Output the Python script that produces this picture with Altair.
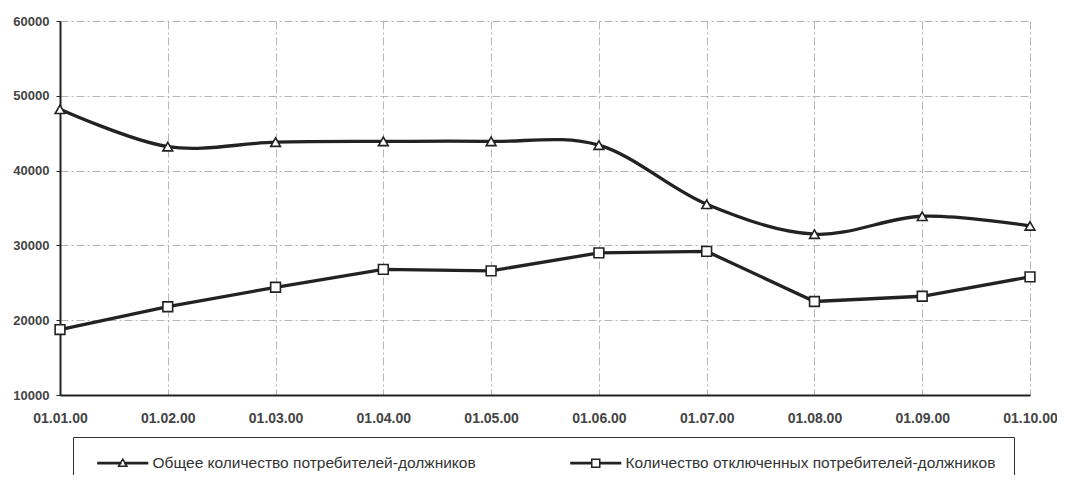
import altair as alt
import pandas as pd

dates = ["01.01.00", "01.02.00", "01.03.00", "01.04.00", "01.05.00",
         "01.06.00", "01.07.00", "01.08.00", "01.09.00", "01.10.00"]
series_names = ["Общее количество потребителей-должников",
                "Количество отключенных потребителей-должников"]
total_debtors = [48200, 43200, 43800, 43900, 43900, 43400, 35500, 31500, 33900, 32600]
disconnected = [18750, 21800, 24400, 26800, 26600, 29000, 29200, 22500, 23200, 25800]
y_ticks = [10000, 20000, 30000, 40000, 50000, 60000]

rows = []
for d, v in zip(dates, total_debtors):
    rows.append({"date": d, "series": series_names[0], "value": v})
for d, v in zip(dates, disconnected):
    rows.append({"date": d, "series": series_names[1], "value": v})
df = pd.DataFrame(rows)

# legend symbols: line with marker
tri_path = "M-6.2,-0.15H-0.5V0.15H-6.2Z M0.5,-0.15H6.2V0.15H0.5Z M0,-1L1.05,0.8L-1.05,0.8Z"
sq_path = "M-6.2,-0.15H-1V0.15H-6.2Z M1,-0.15H6.2V0.15H1Z M-1,-1H1V1H-1Z"

grid_dash = [8, 3, 2, 3]

x_enc = alt.X("date:N", sort=dates, scale=alt.Scale(type="point", padding=0),
              axis=alt.Axis(title=None, labelAngle=0, ticks=False, labelPadding=16,
                            labelFontSize=14, labelColor="#444", labelFont="Liberation Sans",
                            labelFontWeight="bold",
                            domainColor="#222", domainWidth=2,
                            grid=True, gridColor="#b5b5b5", gridDash=grid_dash, gridWidth=1))
y_enc = alt.Y("value:Q", scale=alt.Scale(domain=[10000, 60000], nice=False, zero=False),
              axis=alt.Axis(title=None, values=y_ticks, format="d", tickSize=4, tickColor="#222",
                            labelPadding=7, labelFontSize=13, labelColor="#444",
                            labelFont="Liberation Sans", labelFontWeight="bold",
                            domainColor="#222", domainWidth=2,
                            grid=True, gridColor="#b5b5b5", gridDash=grid_dash, gridWidth=1))

base = alt.Chart(df)

line1 = base.transform_filter(alt.datum.series == series_names[0]).mark_line(
    interpolate="cardinal", color="#222", strokeWidth=3.3
).encode(x=x_enc, y=y_enc)

line2 = base.transform_filter(alt.datum.series == series_names[1]).mark_line(
    color="#222", strokeWidth=3.3
).encode(x=x_enc, y=y_enc)

points = base.mark_point(filled=True, fill="white", stroke="#222", strokeWidth=1.6,
                         size=95, opacity=1).encode(
    x=x_enc, y=y_enc,
    shape=alt.Shape("series:N", scale=alt.Scale(domain=series_names,
                                                 range=["triangle-up", "square"]),
                    legend=None)
)

legend_layer = base.transform_filter("false").mark_point(
    filled=False, stroke="#222", strokeWidth=1.5
).encode(
    x=x_enc, y=y_enc,
    shape=alt.Shape("series:N", scale=alt.Scale(domain=series_names,
                                                 range=[tri_path, sq_path]),
                    legend=alt.Legend(title=None, orient="none", legendX=13, legendY=416,
                                      direction="horizontal", padding=18,
                                      strokeColor="#333",
                                      symbolSize=64, symbolStrokeWidth=1.5,
                                      symbolStrokeColor="#222",
                                      symbolOpacity=1, symbolOffset=24,
                                      labelOffset=22, labelFontSize=15.5,
                                      labelFont="Liberation Sans", labelColor="#333",
                                      labelLimit=800, columnPadding=88))
)

chart = alt.layer(line1, line2, points, legend_layer).resolve_scale(
    shape="independent"
).properties(
    width=970, height=374,
    autosize=alt.AutoSizeParams(type="none"),
    padding={"left": 52, "top": 13, "right": 27, "bottom": 80},
    background="white"
).configure_view(stroke=None)

chart.save("out.html", embed_options={"renderer": "svg", "actions": False})
